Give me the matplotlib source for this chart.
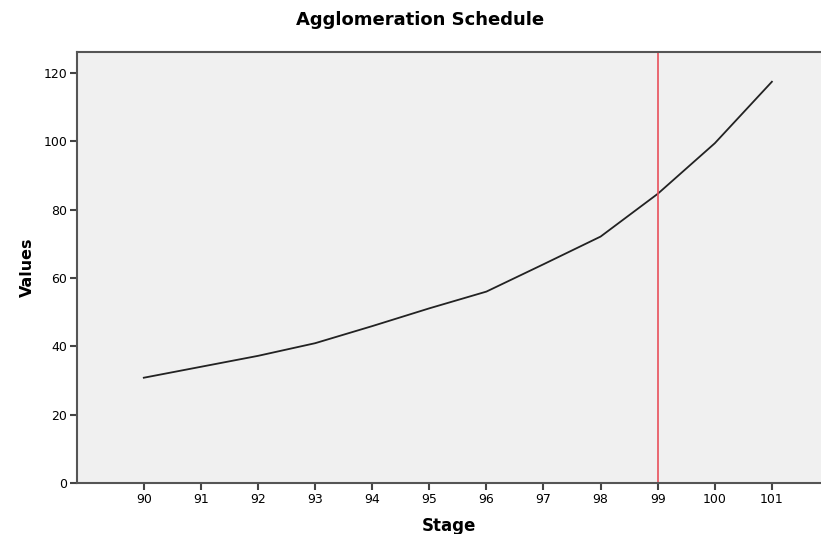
import matplotlib
matplotlib.use("Agg")
import matplotlib.pyplot as plt

stages = [90, 91, 92, 93, 94, 95, 96, 97, 98, 99, 100, 101]
values = [30.8, 34.0, 37.2, 40.9, 45.9, 51.1, 56.0, 64.0, 72.1, 84.6, 99.4, 117.4]
cut_stage = 99
y_ticks = [0, 20, 40, 60, 80, 100, 120]

plt.rcParams['font.family'] = ['DejaVu Sans']

fig = plt.figure(figsize=(8.21, 5.34), dpi=100)
ax = fig.add_axes([77/821, 51/534, 1 - 77/821, (483-52)/534])
ax.set_facecolor('#F0F0F0')

ax.plot(stages, values, color='#222222', lw=1.3)
ax.axvline(cut_stage, color='#E8505A', lw=1.2)

ax.set_xlim(88.83, 101.86)
ax.set_ylim(0, 126.1)
ax.set_xticks(stages)
ax.set_yticks(y_ticks)
ax.tick_params(axis='both', direction='out', length=5, width=1.5, color='#444444', labelsize=9, pad=2)

for s in ['left', 'bottom', 'top']:
    ax.spines[s].set_color('#555555')
    ax.spines[s].set_linewidth(1.5)
ax.spines['right'].set_visible(False)

ax.set_xlabel('Stage', fontsize=12, fontweight='bold', labelpad=8)
ax.set_ylabel('Values', fontsize=11.5, fontweight='bold', labelpad=6)
fig.text(420/821, 1 - 20/534, 'Agglomeration Schedule', ha='center', va='center', fontsize=13, fontweight='bold')

fig.savefig('out.png', dpi=100)
